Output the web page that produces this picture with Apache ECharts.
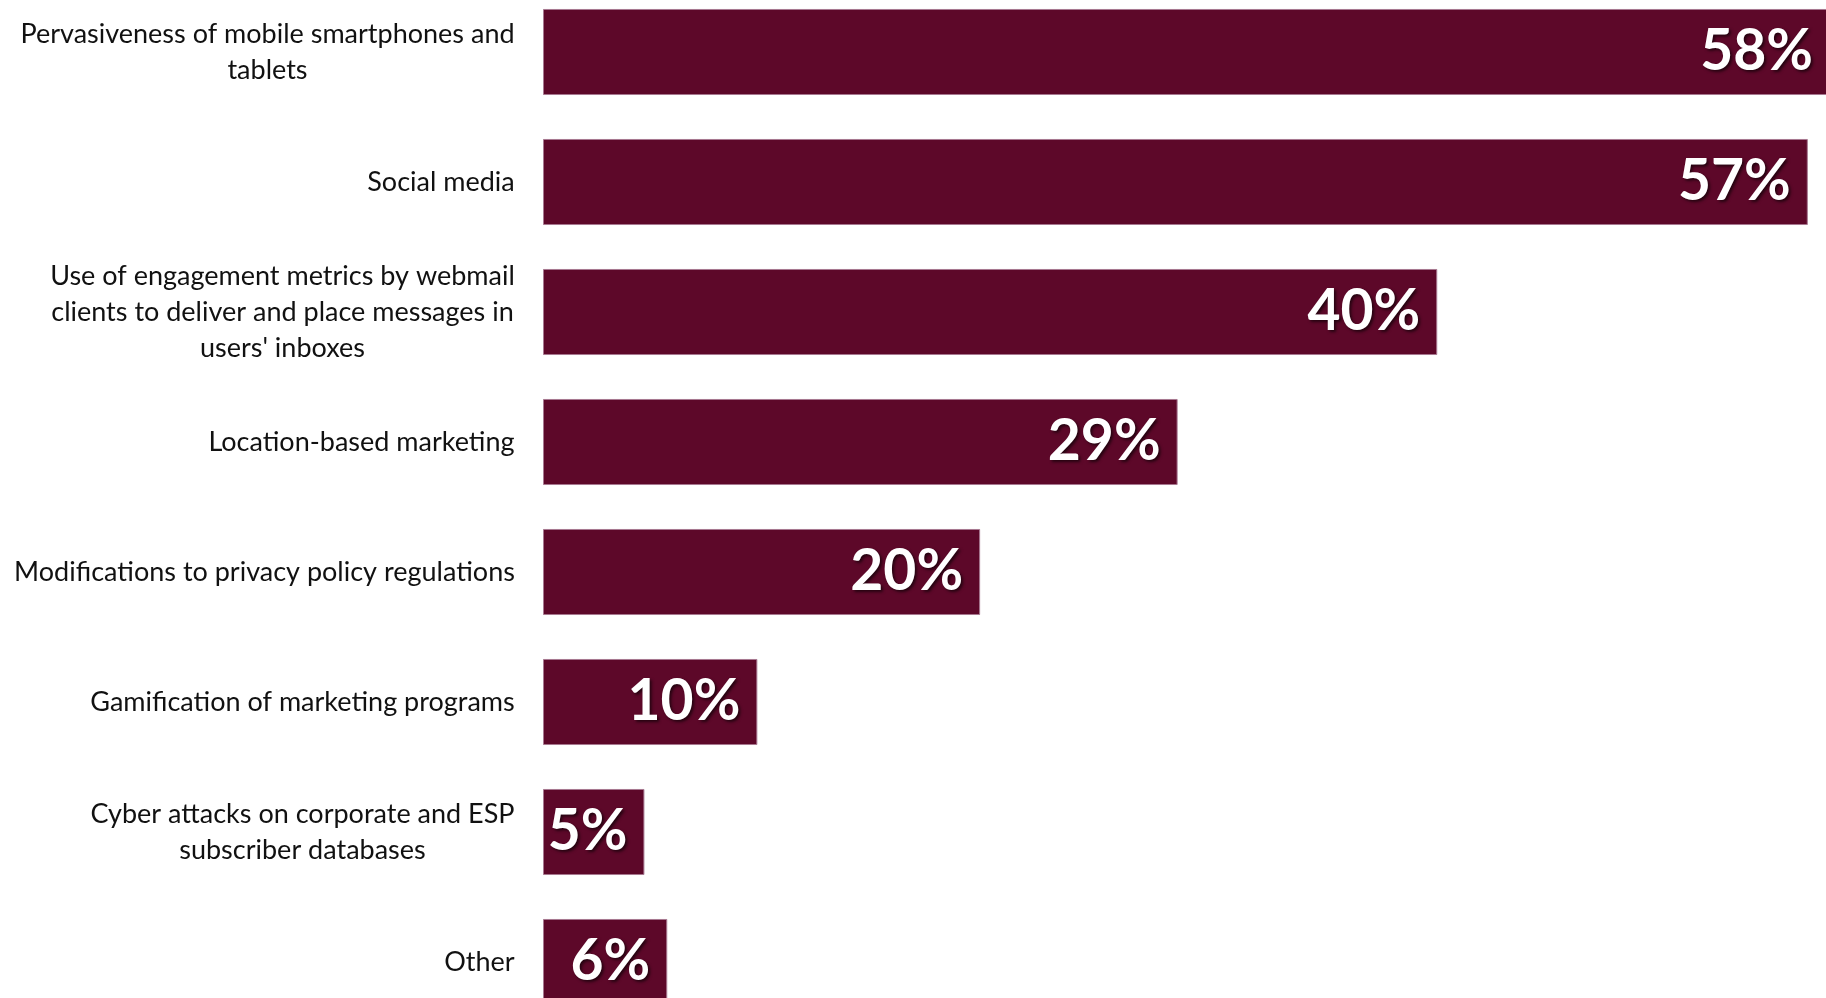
<!DOCTYPE html>
<html>
<head>
<meta charset="utf-8">
<script src="https://cdn.jsdelivr.net/npm/echarts@6/dist/echarts.min.js"></script>
<style>
html,body{margin:0;padding:0;background:#fff;}
#chart{width:1826px;height:998px;}
</style>
</head>
<body>
<div id="chart"></div>
<script>
var categories = [
  "Pervasiveness of mobile smartphones and\ntablets",
  "Social media",
  "Use of engagement metrics by webmail\nclients to deliver and place messages in\nusers' inboxes",
  "Location-based marketing",
  "Modifications to privacy policy regulations",
  "Gamification of marketing programs",
  "Cyber attacks on corporate and ESP\nsubscriber databases",
  "Other"
];
// estimated underlying values (labels show them rounded)
var values = [58, 57, 40.3, 28.6, 19.7, 9.66, 4.57, 5.6];

var catFontSize = 27;
var cv = document.createElement('canvas').getContext('2d');
cv.font = catFontSize + "px Lato";
var rich = {};
var labelMap = {};
categories.forEach(function (c, i) {
  var lines = c.split('\n');
  var w = 0;
  lines.forEach(function (l) { w = Math.max(w, cv.measureText(l).width); });
  var key = 'l' + i;
  rich[key] = { width: Math.ceil(w), align: 'center', fontFamily: 'Lato', fontSize: catFontSize, color: '#111', lineHeight: 36 };
  labelMap[c] = lines.map(function (l) { return '{' + key + '|' + l + '}'; }).join('\n');
});

var chart = echarts.init(document.getElementById('chart'), null, { renderer: 'canvas' });
chart.setOption({
  animation: false,
  backgroundColor: '#ffffff',
  grid: { left: 543, right: -4, top: -13, bottom: -29, containLabel: false, outerBoundsMode: 'none' },
  xAxis: { type: 'value', min: 0, max: 58, show: false },
  yAxis: {
    type: 'category',
    data: categories,
    inverse: true,
    axisLine: { show: false },
    axisTick: { show: false },
    splitLine: { show: false },
    axisLabel: {
      margin: 28,
      align: 'right',
      formatter: function (v) { return labelMap[v]; },
      rich: rich
    }
  },
  series: [{
    type: 'bar',
    data: values,
    barCategoryGap: '33.8%',
    itemStyle: { color: '#5D0829', borderColor: '#A77890', borderWidth: 1 },
    label: {
      show: true,
      position: 'insideRight',
      distance: 17,
      formatter: function (p) { return Math.round(p.value) + '%'; },
      color: '#ffffff',
      fontFamily: 'Lato',
      fontWeight: 'bold',
      fontSize: 57,
      textShadowColor: 'rgba(0,0,0,0.6)',
      textShadowOffsetX: 2,
      textShadowOffsetY: 2,
      textShadowBlur: 3
    }
  }]
});
</script>
</body>
</html>
